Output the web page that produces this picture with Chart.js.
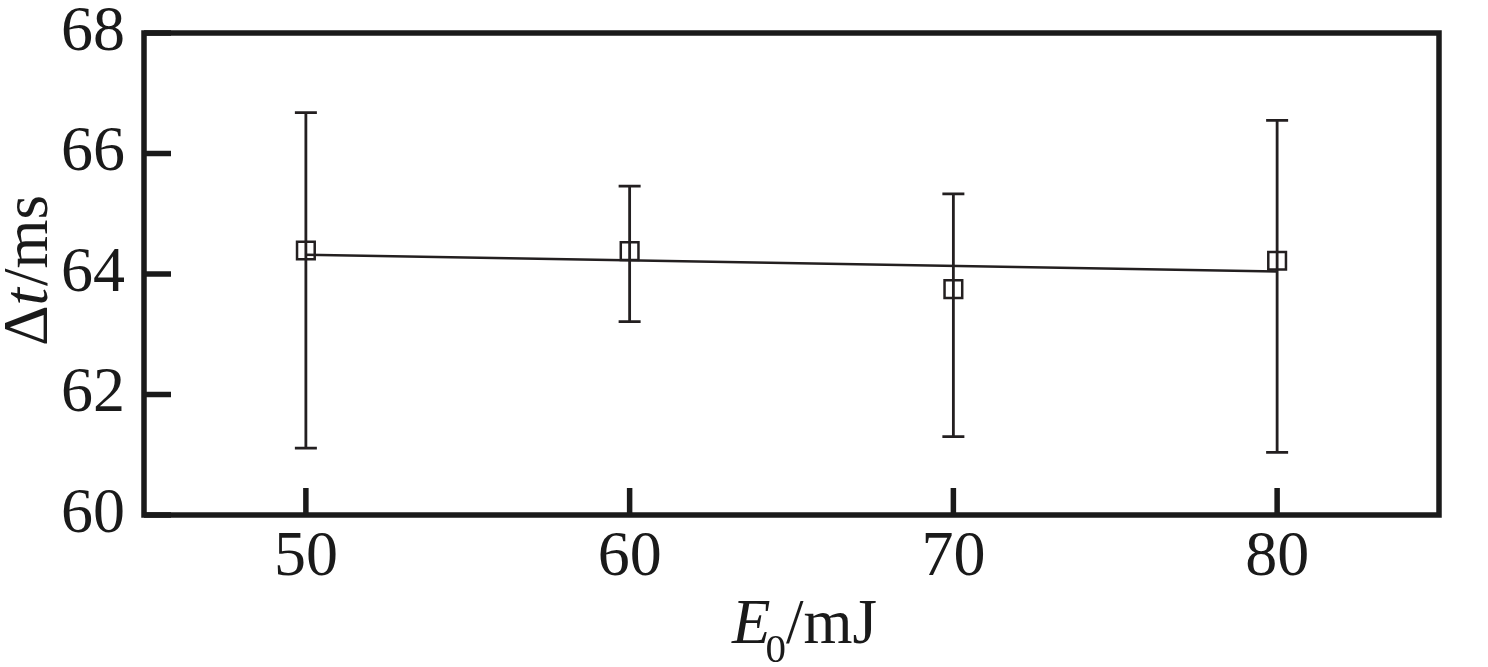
<!DOCTYPE html>
<html>
<head>
<meta charset="utf-8">
<script src="https://cdn.jsdelivr.net/npm/chart.js@4/dist/chart.umd.min.js"></script>
<style>
  html, body { margin: 0; padding: 0; background: #ffffff; }
  #wrap { position: relative; width: 1488px; height: 667px; }
</style>
</head>
<body>
<div id="wrap"><canvas id="dtChart"></canvas></div>
<script>
// energy E0 (mJ) and measured delay Δt (ms) with error bar ends
const energies = [50, 60, 70, 80];
const deltaT = [64.39, 64.38, 63.75, 64.22];
const errHigh = [66.68, 65.46, 65.33, 66.55];
const errLow = [61.11, 63.21, 61.30, 61.04];

// linear fit end points
const fitX = [50, 80];
const fitY = [64.32, 64.04];

const xTicks = [50, 60, 70, 80];
const yTicks = [60, 62, 64, 66, 68];

const ink = "#1a1a1a";
const dataInk = "#231f20";
const serif = "'Liberation Serif', 'Times New Roman', serif";

// error bars, frame, inward ticks and axis titles
const paperPlugin = {
  id: "paper",
  afterDatasetsDraw(chart) {
    const ctx = chart.ctx;
    const xs = chart.scales.x;
    const ys = chart.scales.y;
    ctx.save();
    ctx.strokeStyle = dataInk;
    ctx.lineWidth = 2.8;
    energies.forEach((e, i) => {
      const px = xs.getPixelForValue(e);
      const top = ys.getPixelForValue(errHigh[i]);
      const bot = ys.getPixelForValue(errLow[i]);
      ctx.beginPath();
      ctx.moveTo(px, top);
      ctx.lineTo(px, bot);
      ctx.moveTo(px - 11, top);
      ctx.lineTo(px + 11, top);
      ctx.moveTo(px - 11, bot);
      ctx.lineTo(px + 11, bot);
      ctx.stroke();
    });
    ctx.restore();
  },
  afterDraw(chart) {
    const ctx = chart.ctx;
    const area = chart.chartArea;
    const xs = chart.scales.x;
    const ys = chart.scales.y;
    ctx.save();
    ctx.strokeStyle = ink;
    ctx.lineWidth = 5.5;
    ctx.lineCap = "square";
    ctx.strokeRect(area.left, area.top, area.right - area.left, area.bottom - area.top);

    ctx.lineCap = "butt";
    xTicks.forEach((v) => {
      const px = xs.getPixelForValue(v);
      ctx.beginPath();
      ctx.moveTo(px, area.bottom);
      ctx.lineTo(px, area.bottom - 27);
      ctx.stroke();
    });
    yTicks.forEach((v) => {
      const py = ys.getPixelForValue(v);
      ctx.beginPath();
      ctx.moveTo(area.left, py);
      ctx.lineTo(area.left + 27, py);
      ctx.stroke();
    });

    // x title: E0/mJ
    ctx.fillStyle = ink;
    ctx.textBaseline = "alphabetic";
    ctx.textAlign = "left";
    let x = 732;
    ctx.font = "italic 63px " + serif;
    ctx.fillText("E", x, 643);
    x += ctx.measureText("E").width - 5;
    ctx.font = "41px " + serif;
    ctx.fillText("0", x, 662);
    x += ctx.measureText("0").width;
    ctx.font = "63px " + serif;
    ctx.fillText("/mJ", x, 643);

    // y title: Δt/ms
    ctx.translate(47, 346);
    ctx.rotate(-Math.PI / 2);
    let y = 0;
    ctx.font = "63px " + serif;
    ctx.fillText("Δ", y, 0);
    y += ctx.measureText("Δ").width;
    ctx.font = "italic 63px " + serif;
    ctx.fillText("t", y, 0);
    y += ctx.measureText("t").width + 2;
    ctx.font = "63px " + serif;
    ctx.fillText("/ms", y, 0);
    ctx.restore();
  }
};

document.addEventListener("DOMContentLoaded", function () {
  const ctx = document.getElementById("dtChart").getContext("2d");

  new Chart(ctx, {
    type: "scatter",
    data: {
      datasets: [
        {
          label: "fit",
          type: "line",
          data: fitX.map((v, i) => ({ x: v, y: fitY[i] })),
          borderColor: dataInk,
          borderWidth: 2.5,
          pointRadius: 0,
          fill: false,
        },
        {
          label: "Δt",
          data: energies.map((v, i) => ({ x: v, y: deltaT[i] })),
          pointStyle: "rect",
          pointRadius: 12.5,
          pointBorderWidth: 2.5,
          borderColor: dataInk,
          backgroundColor: "transparent",
          showLine: false,
        },
      ],
    },
    options: {
      responsive: true,
      maintainAspectRatio: false,
      animation: false,
      layout: {
        padding: { top: 33, right: 49, left: 0, bottom: 0 },
      },
      scales: {
        x: {
          type: "linear",
          min: 45,
          max: 85,
          afterBuildTicks: (axis) => {
            axis.ticks = xTicks.map((v) => ({ value: v }));
          },
          afterFit: (axis) => {
            axis.height = 152;
            axis.paddingLeft = 0;
            axis.paddingRight = 0;
          },
          grid: { display: false, drawTicks: false },
          border: { display: false },
          ticks: {
            color: ink,
            padding: 5,
            font: { family: serif, size: 64 },
          },
        },
        y: {
          type: "linear",
          min: 60,
          max: 68,
          afterBuildTicks: (axis) => {
            axis.ticks = yTicks.map((v) => ({ value: v }));
          },
          afterFit: (axis) => {
            axis.width = 144;
            axis.paddingTop = 0;
            axis.paddingBottom = 0;
          },
          grid: { display: false, drawTicks: false },
          border: { display: false },
          ticks: {
            color: ink,
            padding: 19,
            font: { family: serif, size: 64 },
          },
        },
      },
      plugins: {
        legend: { display: false },
        tooltip: { enabled: false },
      },
    },
    plugins: [paperPlugin],
  });
});
</script>
</body>
</html>
